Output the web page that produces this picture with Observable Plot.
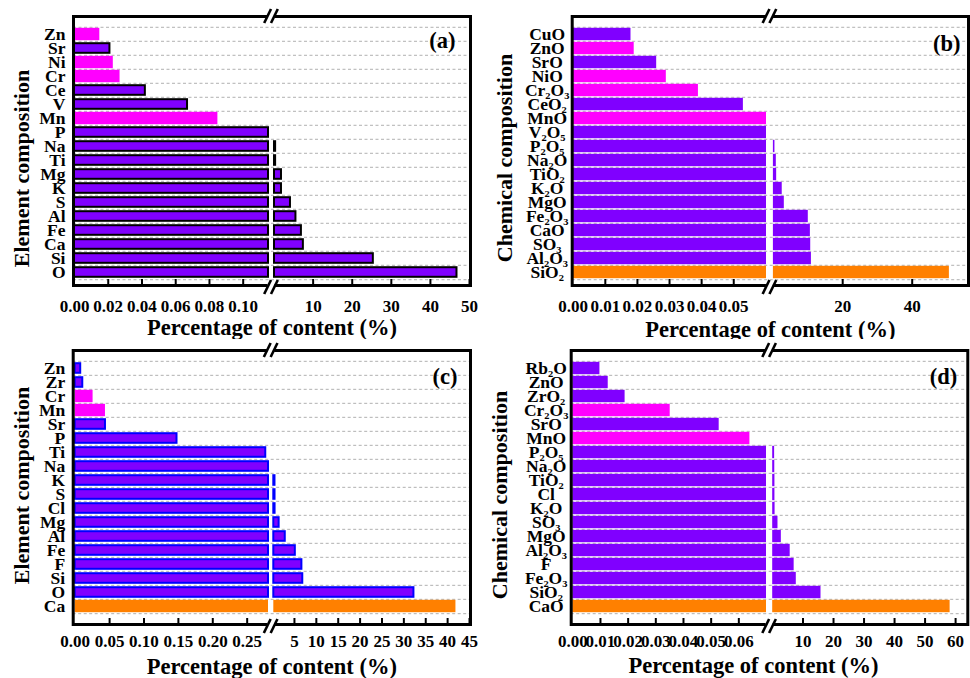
<!DOCTYPE html>
<html><head><meta charset="utf-8">
<script src="https://cdn.jsdelivr.net/npm/d3@7"></script>
<script src="https://cdn.jsdelivr.net/npm/@observablehq/plot@0.6"></script>
<style>
body{margin:0;background:#fff;}
#wrap{display:grid;grid-template-columns:485px 485px;grid-template-rows:339px 339px;width:970px;height:678px;}
#wrap svg, #wrap svg g, #wrap svg text { font-family: "Liberation Serif", "Times New Roman", serif !important; }
</style></head><body><div id="wrap"></div>
<script>
// ---- Panel (a): element composition ----
const aNames = ["Zn","Sr","Ni","Cr","Ce","V","Mn","P","Na","Ti","Mg","K","S","Al","Fe","Ca","Si","O"];
const aValues = [0.015,0.021,0.023,0.027,0.042,0.067,0.085,0.115,0.4,0.4,1.9,1.9,4.2,5.6,7.0,7.5,25.4,46.8];
const aMagenta = ["Zn","Ni","Cr","Mn"];
const aOrange = [];
const aTicksLeft = [0,0.02,0.04,0.06,0.08,0.10];
const aTicksRight = [10,20,30,40,50];

// ---- Panel (b): chemical composition ----
const bNames = ["CuO","ZnO","SrO","NiO","Cr₂O₃","CeO₂","MnO","V₂O₅","P₂O₅","Na₂O","TiO₂","K₂O","MgO","Fe₂O₃","CaO","SO₃","Al₂O₃","SiO₂"];
const bValues = [0.018,0.019,0.026,0.029,0.039,0.053,0.0602,0.0602,0.5,0.9,1.0,2.6,3.2,10.1,10.7,10.8,11.0,50.7];
const bMagenta = ["ZnO","NiO","Cr₂O₃","MnO"];
const bOrange = ["SiO₂"];
const bTicksLeft = [0,0.01,0.02,0.03,0.04,0.05];
const bTicksRight = [20,40];

// ---- Panel (c): element composition ----
const cNames = ["Zn","Zr","Cr","Mn","Sr","P","Ti","Na","K","S","Cl","Mg","Al","Fe","F","Si","O","Ca"];
const cValues = [0.008,0.011,0.026,0.044,0.044,0.148,0.277,0.281,0.55,0.56,0.57,1.5,2.9,5.2,6.7,6.9,32.3,41.9];
const cMagenta = ["Cr","Mn"];
const cOrange = ["Ca"];
const cTicksLeft = [0,0.05,0.10,0.15,0.20,0.25];
const cTicksRight = [5,10,15,20,25,30,35,40,45];

// ---- Panel (d): chemical composition ----
const dNames = ["Rb₂O","ZnO","ZrO₂","Cr₂O₃","SrO","MnO","P₂O₅","Na₂O","TiO₂","Cl","K₂O","SO₃","MgO","Al₂O₃","F","Fe₂O₃","SiO₂","CaO"];
const dValues = [0.0098,0.0128,0.0189,0.0352,0.0529,0.064,0.7,0.75,0.8,0.8,0.85,1.8,2.9,5.8,7.1,7.8,15.9,58.2];
const dMagenta = ["Cr₂O₃","MnO"];
const dOrange = ["CaO"];
const dTicksLeft = [0,0.01,0.02,0.03,0.04,0.05,0.06];
const dTicksRight = [10,20,30,40,50,60];

const PURPLE = "#8000FF", MAGENTA = "#FF00FF", ORANGE = "#FF8000";
const FONT = "'Liberation Serif','Times New Roman',serif";
const W = 485, H = 339;

function breakMarks(L, R0, bottomShift) {
  return (index, scales, values, dims) => {
    const x = scales.x;
    const bx = (x(L) + x(R0)) / 2;
    const g = d3.create("svg:g");
    const yt = dims.marginTop, yb = dims.height - dims.marginBottom;
    for (const [yf, yc] of [[yt, yt], [yb, yb + bottomShift]]) {
      g.append("line").attr("x1", bx - 3.5).attr("x2", bx + 3.5).attr("y1", yf).attr("y2", yf)
        .attr("stroke", "white").attr("stroke-width", 5);
      for (const s of [-3.4, 3.4]) {
        g.append("line").attr("x1", bx + s - 3.4).attr("y1", yc + 7).attr("x2", bx + s + 3.4).attr("y2", yc - 7)
          .attr("stroke", "black").attr("stroke-width", 2.6);
      }
    }
    return g.node();
  };
}

function panel(cfg) {
  const {names, values, magenta, orange, L, R0, xMax, xRange, yRange, m, ticksLeft, ticksRight,
         barStroke, yTitle, yAnchor, yPad, yTitleDx, yTitleDy, xTitleDy, xTitleDx, tag, tagDx, tagDy, xPad} = cfg;
  const data = names.map((name, i) => ({name, value: values[i],
    group: orange.includes(name) ? "orange" : magenta.includes(name) ? "magenta" : "purple"}));
  const n = names.length;
  const step = (yRange[1] - yRange[0]) / n;
  const frameH = H - m[0] - m[2];
  const ticks = ticksLeft.concat(ticksRight);
  const gridStyle = {stroke: "#b0b0b0", strokeDasharray: "3,2.5", strokeWidth: 1};
  const barMarks = [];
  for (const [grp, fill] of [["purple", PURPLE], ["magenta", MAGENTA], ["orange", ORANGE]]) {
    const rows = data.filter(d => d.group === grp);
    const stroked = grp === "purple" && barStroke;
    const style = stroked
      ? {fill, stroke: barStroke, strokeWidth: 2, insetTop: 2.2, insetBottom: 2.2}
      : {fill, insetTop: 0.8, insetBottom: 0.8};
    barMarks.push(Plot.barX(rows, {y: "name", x1: () => 0, x2: d => Math.min(d.value, L), ...style}));
    barMarks.push(Plot.barX(rows.filter(d => d.value > R0), {y: "name", x1: () => R0, x2: d => d.value, ...style}));
  }
  return Plot.plot({
    width: W, height: H,
    marginTop: m[0], marginRight: m[1], marginBottom: m[2], marginLeft: m[3],
    style: {fontFamily: FONT, background: "white", overflow: "visible"},
    x: {type: "linear", domain: [0, L, R0, xMax], range: xRange},
    y: {type: "band", domain: names, range: yRange, padding: 0},
    marks: [
      Plot.ruleY(names, {y: d => d, dy: -step / 2, ...gridStyle}),
      Plot.ruleY([names[n - 1]], {y: d => d, dy: step / 2, ...gridStyle}),
      ...barMarks,
      Plot.ruleX(ticks.filter(v => v !== 0), {x: d => d, insetTop: frameH - 6, stroke: "black", strokeWidth: 2}),
      Plot.frame({stroke: "black", strokeWidth: 3}),
      breakMarks(L, R0, 2),
      Plot.axisX(ticks, {tickSize: 0, tickPadding: xPad, fontSize: 17, fontWeight: "bold", label: null,
        tickFormat: d => d < 1 ? d.toFixed(2) : d3.format("d")(d)}),
      Plot.axisY({tickSize: 0, tickPadding: yPad, textAnchor: yAnchor, fontSize: 17.5, fontWeight: "bold", label: null}),
      Plot.text([yTitle], {text: d => d, frameAnchor: "left", rotate: -90, textAnchor: "middle", lineAnchor: "bottom",
        dx: yTitleDx, dy: yTitleDy, fontSize: 22, fontWeight: "bold"}),
      Plot.text(["Percentage of content (%)"], {text: d => d, frameAnchor: "bottom", textAnchor: "middle", lineAnchor: "bottom",
        dx: xTitleDx, dy: xTitleDy, fontSize: 22.5, fontWeight: "bold"}),
      Plot.text([tag], {text: d => d, frameAnchor: "top-right", textAnchor: "end", lineAnchor: "middle",
        dx: tagDx, dy: tagDy, fontSize: 22.5, fontWeight: "bold"})
    ]
  });
}

const wrap = document.getElementById("wrap");
wrap.append(panel({
  names: aNames, values: aValues, magenta: aMagenta, orange: aOrange,
  L: 0.115, R0: 0.1151, xMax: 50, xRange: [74, 268, 274, 469], yRange: [23.3, 282.7], m: [16, 15, 54, 73],
  ticksLeft: aTicksLeft, ticksRight: aTicksRight, barStroke: "black",
  yTitle: "Element composition", yAnchor: "end", yPad: 8, yTitleDx: -44.7, yTitleDy: 17.5,
  xTitleDx: 0, xTitleDy: 49, tag: "(a)", tagDx: -15, tagDy: 24, xPad: 14
}));
wrap.append(panel({
  names: bNames, values: bValues, magenta: bMagenta, orange: bOrange,
  L: 0.0602, R0: 0.0603, xMax: 56.2, xRange: [87.7, 281, 287.9, 483], yRange: [23.3, 282.7], m: [16, 2, 54, 86.7],
  ticksLeft: bTicksLeft, ticksRight: bTicksRight, barStroke: null,
  yTitle: "Chemical composition", yAnchor: "middle", yPad: 25, yTitleDx: -60.7, yTitleDy: 7,
  xTitleDx: 0, xTitleDy: 51.5, tag: "(b)", tagDx: -8, tagDy: 27, xPad: 14
}));
wrap.append(panel({
  names: cNames, values: cValues, magenta: cMagenta, orange: cOrange,
  L: 0.281, R0: 0.2811, xMax: 45, xRange: [74.7, 268, 273.3, 469], yRange: [19.3, 277.7], m: [11, 15, 54, 72.7],
  ticksLeft: cTicksLeft, ticksRight: cTicksRight, barStroke: "#0000FF",
  yTitle: "Element composition", yAnchor: "end", yPad: 8, yTitleDx: -44.4, yTitleDy: -2,
  xTitleDx: 0, xTitleDy: 49.5, tag: "(c)", tagDx: -13, tagDy: 26.7, xPad: 10
}));
wrap.append(panel({
  names: dNames, values: dValues, magenta: dMagenta, orange: dOrange,
  L: 0.07, R0: 0.0701, xMax: 64, xRange: [87.3, 281, 287.2, 482.3], yRange: [19.3, 277.7], m: [11, 2.7, 54, 85.7],
  ticksLeft: dTicksLeft, ticksRight: dTicksRight, barStroke: null,
  yTitle: "Chemical composition", yAnchor: "middle", yPad: 25, yTitleDx: -64, yTitleDy: 7.5,
  xTitleDx: -16, xTitleDy: 48, tag: "(d)", tagDx: -10.6, tagDy: 26.7, xPad: 10
}));
</script></body></html>
